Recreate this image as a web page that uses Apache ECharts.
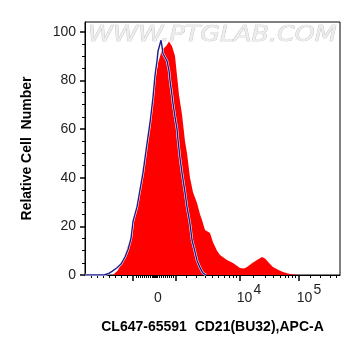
<!DOCTYPE html>
<html>
<head>
<meta charset="utf-8">
<script src="https://cdn.jsdelivr.net/npm/echarts@6/dist/echarts.min.js"></script>
<style>
  html, body { margin: 0; padding: 0; background: #fff; }
  #main { width: 361px; height: 356px; }
</style>
</head>
<body>
<div id="main"></div>
<script>
  // x is in display channels of the biexponential APC-A axis (0 = left edge of plot)
  var sampleX = [0, 28, 33, 38, 45, 52, 57, 62, 65, 69, 73, 77, 79, 81, 84, 87, 90, 92, 94, 97, 100, 102, 105, 108, 112, 115, 117, 120, 125, 128, 132, 135, 142, 148, 155, 159, 162, 167, 172, 177, 180, 182, 185, 188, 193, 198, 203, 208, 215, 255];
  var sampleY = [0, 0, 2, 6.2, 14.4, 28, 42, 55.5, 64, 77, 87, 92.6, 92, 94, 96, 94, 90, 82, 74, 66, 55, 50, 40, 34, 29.6, 25, 22.6, 18.5, 17.3, 13.5, 10, 8.2, 6.2, 4.9, 2.9, 2.7, 3.3, 4.8, 6.2, 7.4, 6.8, 6.2, 4.5, 3.3, 2.2, 1.2, 0.6, 0.2, 0, 0];

  var controlX = [0, 19, 23, 27, 32, 36, 40, 43, 46, 48, 50, 52, 55, 58, 60, 62, 65, 68, 70, 72, 73, 75, 76, 77, 78, 80, 82, 84, 85, 87, 88, 90, 92, 93, 95, 97, 100, 102, 105, 107, 110, 112, 115, 118, 121, 255];
  var controlY = [0, 0, 0.5, 1.5, 3, 4.5, 7.4, 10.5, 15, 22, 25, 28, 35, 42, 48, 54, 62.5, 73, 82, 88, 92, 95, 96.5, 94, 91, 89.5, 88, 84, 80, 74, 70.5, 65, 60, 55.5, 48, 42, 34, 28, 21, 14.4, 9.5, 6, 3, 0.8, 0];

  var xMajorTicks = [48, 91, 155, 214];
  var xMinorTicks = [6, 12, 18, 24, 30, 36, 42,
    51, 53, 55, 57, 59, 61, 63, 65, 67, 68, 69, 70, 71, 72, 74, 76, 78, 80, 82, 84, 86, 88,
    101, 111, 120, 127, 133, 139, 144, 148, 151,
    168, 180, 188, 195, 200, 203, 207, 210,
    225, 235, 245, 251];
  var xLabelPos = [73, 164, 224];
  var xLabelText = ['0', '10^4', '10^5'];

  var yLabels = [0, 20, 40, 60, 80, 100];
  var yMinorTicks = [5, 10, 15, 25, 30, 35, 45, 50, 55, 65, 70, 75, 85, 90, 95];

  function pairs(xs, ys) {
    return xs.map(function (x, i) { return [x, ys[i]]; });
  }

  var myChart = echarts.init(document.getElementById('main'));
  var font = 'Liberation Sans, Arial, sans-serif';
  var baseX = { type: 'value', min: 0, max: 255, gridIndex: 0, splitLine: {show: false} };
  var baseY = { type: 'value', min: 0, max: 104, gridIndex: 0, splitLine: {show: false} };

  var option = {
    animation: false,
    grid: {left: 85, right: 21, top: 22, bottom: 81, show: true, borderColor: '#000', borderWidth: 1, backgroundColor: '#fff'},
    graphic: [{
      type: 'text', x: 88, y: 25, scaleX: 1.21, z: 1,
      style: {text: 'WWW.PTGLAB.COM', font: 'italic 21px "DejaVu Sans", sans-serif', fill: '#ededed', stroke: '#bfbfbf', lineWidth: 0.7}
    }],
    xAxis: [
      Object.assign({}, baseX, {
        position: 'bottom',
        name: 'CL647-65591  CD21(BU32),APC-A',
        nameLocation: 'middle', nameGap: 45,
        nameTextStyle: {fontFamily: font, fontWeight: 'bold', fontSize: 14, color: '#000'},
        axisLine: {lineStyle: {color: '#000', width: 1}},
        axisTick: {show: true, length: 3, customValues: xMinorTicks, lineStyle: {color: '#000'}},
        axisLabel: {show: false}
      }),
      Object.assign({}, baseX, {
        position: 'bottom',
        axisLine: {show: false},
        axisTick: {show: true, length: 6, customValues: xMajorTicks, lineStyle: {color: '#000', width: 1.5}},
        axisLabel: {show: false}
      }),
      Object.assign({}, baseX, {
        position: 'bottom',
        axisLine: {show: false},
        axisTick: {show: false},
        axisLabel: {
          show: true, margin: 12, customValues: xLabelPos,
          formatter: function (v) {
            var t = xLabelText[xLabelPos.indexOf(Math.round(v))];
            if (t.indexOf('^') > 0) {
              var p = t.split('^');
              return '{n|' + p[0] + '}{s|' + p[1] + '}';
            }
            return '{n|' + t + '}';
          },
          rich: {
            n: {fontFamily: font, fontSize: 14, color: '#222', verticalAlign: 'bottom', lineHeight: 18},
            s: {fontFamily: font, fontSize: 14, color: '#222', verticalAlign: 'bottom', lineHeight: 18, padding: [0, 0, 8, 1]}
          }
        }
      })
    ],
    yAxis: [
      Object.assign({}, baseY, {
        position: 'left',
        name: 'Relative Cell  Number',
        nameLocation: 'middle', nameGap: 51,
        nameTextStyle: {fontFamily: font, fontWeight: 'bold', fontSize: 14, color: '#000'},
        axisLine: {show: true, lineStyle: {color: '#000', width: 1}},
        axisTick: {show: true, length: 5, customValues: yLabels, lineStyle: {color: '#000', width: 1.5}},
        axisLabel: {show: true, margin: 9, customValues: yLabels, fontFamily: font, fontSize: 14, color: '#222'}
      }),
      Object.assign({}, baseY, {
        position: 'left',
        axisLine: {show: false},
        axisTick: {show: true, length: 3, customValues: yMinorTicks, lineStyle: {color: '#000'}},
        axisLabel: {show: false}
      })
    ],
    series: [
      {
        name: 'CD21', type: 'line', xAxisIndex: 0, yAxisIndex: 0,
        data: pairs(sampleX, sampleY), symbol: 'none', z: 2,
        lineStyle: {width: 0}, areaStyle: {color: '#ff0000', opacity: 1}
      },
      {
        name: 'halo', type: 'line', xAxisIndex: 0, yAxisIndex: 0,
        data: pairs(controlX, controlY), symbol: 'none', z: 3,
        lineStyle: {color: '#ffffff', width: 2.4}
      },
      {
        name: 'Control', type: 'line', xAxisIndex: 0, yAxisIndex: 0,
        data: pairs(controlX, controlY), symbol: 'none', z: 4,
        lineStyle: {color: '#1c1c8c', width: 1.4}
      }
    ]
  };
  option && myChart.setOption(option);
</script>
</body>
</html>
